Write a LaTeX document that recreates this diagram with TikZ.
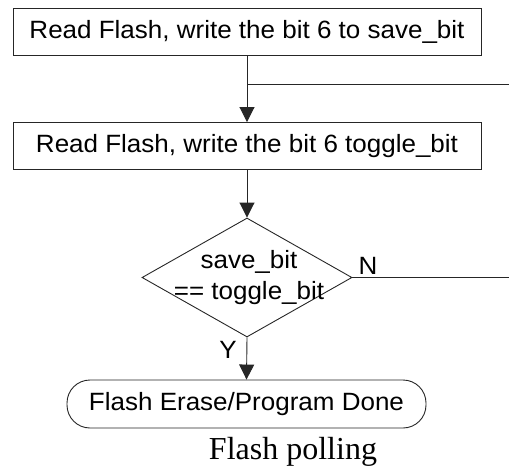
\documentclass[tikz,border=0pt]{standalone}
\usepackage{fontspec}
\setmainfont{Liberation Sans}[FakeStretch=1.04]
\newfontfamily\capfont{Liberation Serif}
\usetikzlibrary{shapes.geometric,arrows.meta}
\begin{document}
\begin{tikzpicture}[x=1pt,y=-1pt,
  every node/.style={font=\fontsize{25}{31}\selectfont},
  procbox/.style={draw=black!85,line width=0.9pt,minimum width=468pt,minimum height=47pt,inner sep=0pt},
  decbox/.style={draw=black!85,line width=0.9pt,diamond,minimum width=210pt,minimum height=119pt,inner sep=0pt},
  termbox/.style={draw=black!85,line width=0.9pt,rectangle,rounded corners=23pt,minimum width=359pt,minimum height=48pt,inner sep=0pt},
  flow/.style={line width=0.9pt,draw=black!85,-{Triangle[width=15pt,length=15pt]}},
  plain/.style={line width=0.9pt,draw=black!85}]
\useasboundingbox (0,0) rectangle (509,471);
\node[procbox] (b1) at (247,31.5) {Read Flash, write the bit 6 to save\_bit};
\node[procbox] (b2) at (247,146) {Read Flash, write the bit 6 toggle\_bit};
\node[decbox] (dec) at (247,277.5) {};
\node[align=center,inner sep=0pt] (dect) at (249,278) {save\_bit\\== toggle\_bit};
\node[termbox] (term) at (246.5,404) {Flash Erase/Program Done};
\node[font=\capfont\fontsize{32}{36}\selectfont,inner sep=0pt] (cap) at (293,452) {Flash polling};
\node[inner sep=0pt] (nl) at (368,266) {N};
\node[inner sep=0pt] (yl) at (228,350) {Y};
\coordinate (j) at (247,84);
\coordinate (jr) at (509,84);
\coordinate (nr) at (509,277.5);
\draw[flow] (b1.south) -- (b2.north);
\draw[plain] (j) -- (jr);
\draw[flow] (b2.south) -- (dec.north);
\draw[plain] (dec.east) -- (nr);
\draw[flow] (dec.south) -- (term.north);
\end{tikzpicture}
\end{document}
